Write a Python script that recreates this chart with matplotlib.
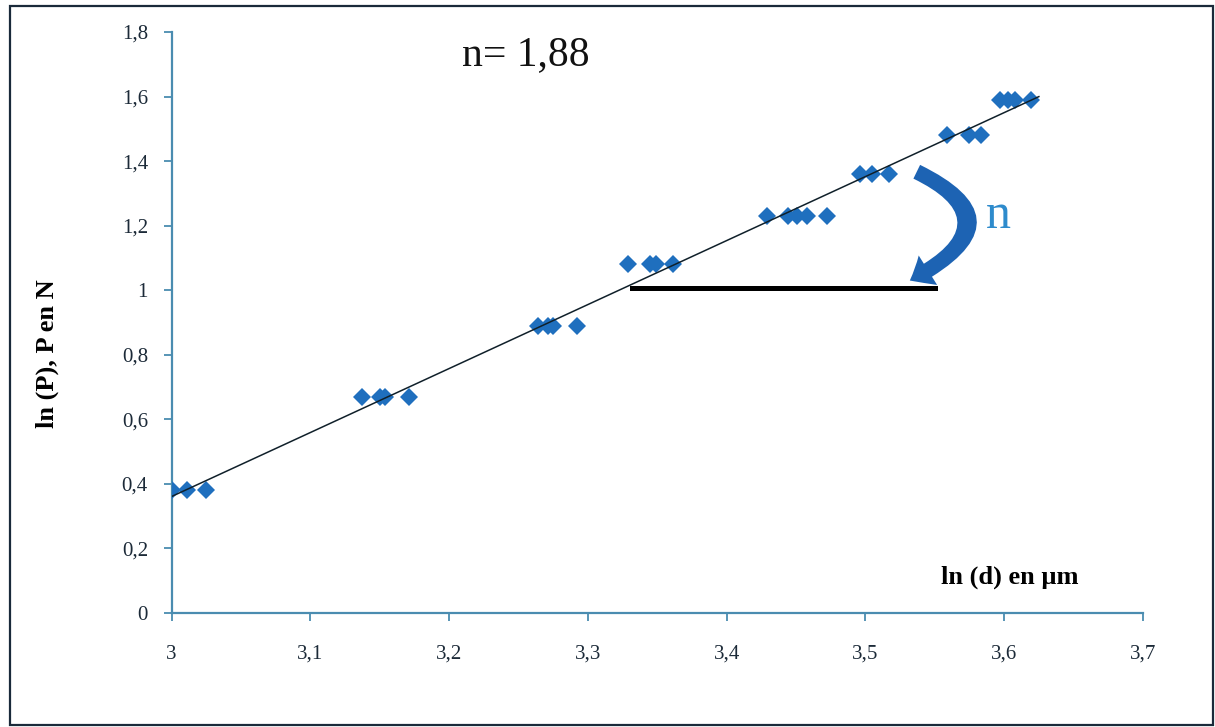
import numpy as np
import matplotlib.pyplot as plt
from matplotlib.patches import FancyArrowPatch, Rectangle
from matplotlib.path import Path

plt.rcParams['font.family'] = ['Liberation Serif', 'DejaVu Serif']

# ln(d) and ln(P) values
ln_d = [3.000, 3.011, 3.025,
        3.137, 3.150, 3.154, 3.171,
        3.264, 3.271, 3.275, 3.292,
        3.329, 3.345, 3.349, 3.361,
        3.429, 3.444, 3.451, 3.458, 3.472,
        3.496, 3.505, 3.517,
        3.559, 3.575, 3.583,
        3.597, 3.603, 3.608, 3.619]
ln_p = [0.38, 0.38, 0.38,
        0.67, 0.67, 0.67, 0.67,
        0.89, 0.89, 0.89, 0.89,
        1.08, 1.08, 1.08, 1.08,
        1.23, 1.23, 1.23, 1.23, 1.23,
        1.36, 1.36, 1.36,
        1.48, 1.48, 1.48,
        1.59, 1.59, 1.59, 1.59]
x_ticks = [3.0, 3.1, 3.2, 3.3, 3.4, 3.5, 3.6, 3.7]
x_labels = ['3', '3,1', '3,2', '3,3', '3,4', '3,5', '3,6', '3,7']
y_ticks = [0, 0.2, 0.4, 0.6, 0.8, 1.0, 1.2, 1.4, 1.6, 1.8]
y_labels = ['0', '0,2', '0,4', '0,6', '0,8', '1', '1,2', '1,4', '1,6', '1,8']

blue = '#1f6fbe'
axis_col = '#4a8cb0'

fig = plt.figure(figsize=(12.15, 7.27), dpi=100)
ax = fig.add_axes([0.1412, 0.1568, 0.7995, 0.7992])

ax.plot(ln_d, ln_p, 'D', color=blue, markersize=9, markeredgewidth=0, zorder=3)

# tendance lineaire
a, b = np.polyfit(ln_d, ln_p, 1)
xt = np.array([3.0, 3.625])
ax.plot(xt, a * xt + b, color='#10202a', lw=1.1, zorder=4)

# triangle de pente
ax.plot([3.332, 3.55], [1.008, 1.008], color='black', lw=3.6, zorder=2)
arc = Path([(3.537, 1.367), (3.612, 1.21), (3.532, 1.03)],
           [Path.MOVETO, Path.CURVE3, Path.CURVE3])
arr = FancyArrowPatch(path=arc,
                      arrowstyle='simple,head_length=15,head_width=25,tail_width=11',
                      mutation_scale=1, color='#1d63b3', lw=0, zorder=5)
ax.add_patch(arr)
ax.text(3.596, 1.231, 'n', color='#2e8bcc', fontsize=36, ha='center', va='center')
ax.text(3.255, 1.73, 'n= 1,88', color='#111111', fontsize=30, ha='center', va='center')
ax.text(3.604, 0.112, 'ln (d) en µm', fontsize=19, fontweight='bold', ha='center', va='center')
fig.text(0.039, 0.513, 'ln (P), P en N', fontsize=19, fontweight='bold',
         rotation=90, ha='center', va='center')

ax.set_xlim(3.0, 3.7)
ax.set_ylim(0, 1.8)
ax.set_xticks(x_ticks)
ax.set_xticklabels(x_labels)
ax.set_yticks(y_ticks)
ax.set_yticklabels(y_labels)
ax.tick_params(direction='out', length=6, width=1.3, color=axis_col,
               labelsize=15, labelcolor='#1c2a38')
ax.tick_params(axis='x', pad=17)
ax.tick_params(axis='y', pad=11)
for s in ['top', 'right']:
    ax.spines[s].set_visible(False)
for s in ['left', 'bottom']:
    ax.spines[s].set_color(axis_col)
    ax.spines[s].set_linewidth(1.6)

fig.patches.append(Rectangle((10 / 1215, 2 / 727), 1203 / 1215, 719 / 727,
                             transform=fig.transFigure, fill=False,
                             edgecolor='#1a2a3a', lw=1.6))

fig.savefig('out.png', dpi=100)
